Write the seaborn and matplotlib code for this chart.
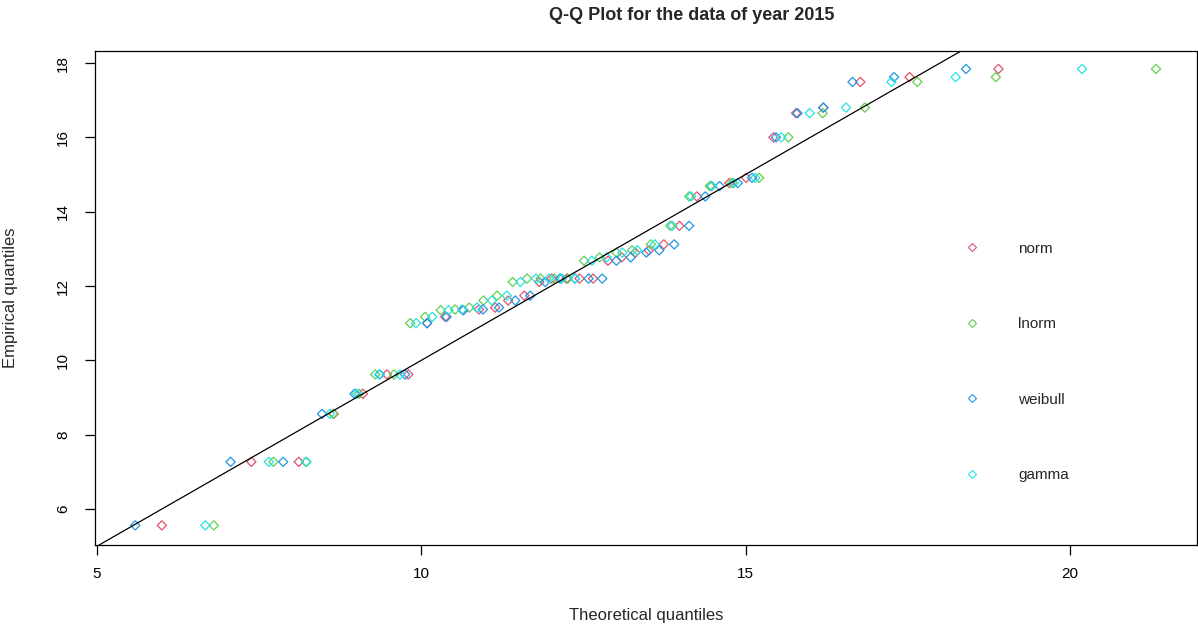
import numpy as np
import pandas as pd
import matplotlib
matplotlib.use("Agg")
import matplotlib.pyplot as plt
from matplotlib.lines import Line2D
import seaborn as sns

# Empirical quantiles (sorted observations, 2015)
empirical = [5.56, 7.27, 7.27, 8.56, 9.10, 9.62, 9.62, 11.00, 11.17, 11.35,
             11.37, 11.42, 11.61, 11.74, 12.11, 12.20, 12.20, 12.20, 12.20, 12.68,
             12.77, 12.90, 12.96, 13.12, 13.62, 14.41, 14.69, 14.77, 14.91, 16.00,
             16.65, 16.80, 17.49, 17.62, 17.84]

# Theoretical quantiles of each fitted distribution
q_norm = [6.00, 7.38, 8.11, 8.65, 9.10, 9.47, 9.80, 10.09, 10.37, 10.64,
          10.89, 11.14, 11.34, 11.59, 11.82, 12.01, 12.24, 12.44, 12.65, 12.88,
          13.09, 13.30, 13.51, 13.74, 13.98, 14.25, 14.47, 14.75, 15.01, 15.43,
          15.78, 16.20, 16.77, 17.53, 18.90]
q_lnorm = [6.80, 7.72, 8.23, 8.64, 9.04, 9.29, 9.58, 9.83, 10.06, 10.30,
           10.52, 10.74, 10.96, 11.17, 11.41, 11.63, 11.84, 12.05, 12.26, 12.51,
           12.75, 13.01, 13.25, 13.54, 13.84, 14.13, 14.45, 14.79, 15.21, 15.66,
           16.19, 16.84, 17.65, 18.86, 21.33]
q_weibull = [5.59, 7.06, 7.87, 8.47, 8.97, 9.36, 9.75, 10.09, 10.39, 10.65,
             10.95, 11.20, 11.45, 11.68, 11.91, 12.14, 12.37, 12.58, 12.79, 13.01,
             13.23, 13.47, 13.67, 13.90, 14.13, 14.38, 14.60, 14.88, 15.10, 15.47,
             15.80, 16.20, 16.65, 17.29, 18.40]
q_gamma = [6.67, 7.65, 8.22, 8.59, 9.00, 9.35, 9.67, 9.92, 10.17, 10.42,
           10.63, 10.86, 11.09, 11.32, 11.53, 11.77, 11.97, 12.17, 12.37, 12.63,
           12.86, 13.10, 13.33, 13.60, 13.87, 14.16, 14.48, 14.82, 15.15, 15.55,
           15.99, 16.55, 17.25, 18.24, 20.19]

dist_names = ["norm", "lnorm", "weibull", "gamma"]
dist_colors = ["#DF536B", "#61D04F", "#2297E6", "#28E2E5"]

frames = []
for name, q in zip(dist_names, [q_norm, q_lnorm, q_weibull, q_gamma]):
    frames.append(pd.DataFrame({"theoretical": q, "empirical": empirical, "dist": name}))
df = pd.concat(frames, ignore_index=True)

sns.set_style("white")
plt.rcParams["font.family"] = ["Liberation Sans", "DejaVu Sans"]

fig = plt.figure(figsize=(11.98, 6.27), dpi=100)
ax = fig.add_axes([95 / 1198, 1 - 545 / 627, 1102 / 1198, 494 / 627])

palette = dict(zip(dist_names, dist_colors))
sns.scatterplot(data=df, x="theoretical", y="empirical", hue="dist", palette=palette,
                marker="D", s=22, linewidth=0.9, legend=False, ax=ax)
# open diamonds: outline in the series colour, no fill
coll = ax.collections[0]
coll.set_edgecolors([palette[d] for d in df["dist"]])
coll.set_facecolors("none")

ax.set_xlim(4.969, 21.962)
ax.set_ylim(5.032, 18.323)

# reference line y = x
ax.axline((5, 5), slope=1, color="black", linewidth=0.9)

ax.set_xticks([5, 10, 15, 20])
ax.set_yticks([6, 8, 10, 12, 14, 16, 18])
ax.tick_params(axis="both", direction="out", length=7, width=0.9, colors="black",
               labelsize=11, left=True, bottom=True)
ax.tick_params(axis="x", pad=9)
ax.tick_params(axis="y", pad=11)
for lbl in ax.get_yticklabels():
    lbl.set_rotation(90)
    lbl.set_va("center")
for sp in ax.spines.values():
    sp.set_visible(True)
    sp.set_color("black")
    sp.set_linewidth(0.9)

ax.set_xlabel("Theoretical quantiles", fontsize=12, labelpad=19)
ax.set_ylabel("Empirical quantiles", fontsize=12, labelpad=27)
fig.text(692 / 1198, 1 - 16 / 627, "Q-Q Plot for the data of year 2015",
         ha="center", va="center", fontsize=13, fontweight="bold")

handles = [Line2D([], [], linestyle="none", marker="D", markersize=4.2,
                  markerfacecolor="none", markeredgecolor=c, markeredgewidth=0.8)
           for c in dist_colors]
ax.legend(handles, dist_names, loc="upper left",
          bbox_to_anchor=(951 / 1198, 1 - 228 / 627), bbox_transform=fig.transFigure,
          frameon=False, fontsize=11, labelspacing=4.02, handletextpad=2.5,
          handlelength=1.0)

fig.savefig("out.png", dpi=100)
